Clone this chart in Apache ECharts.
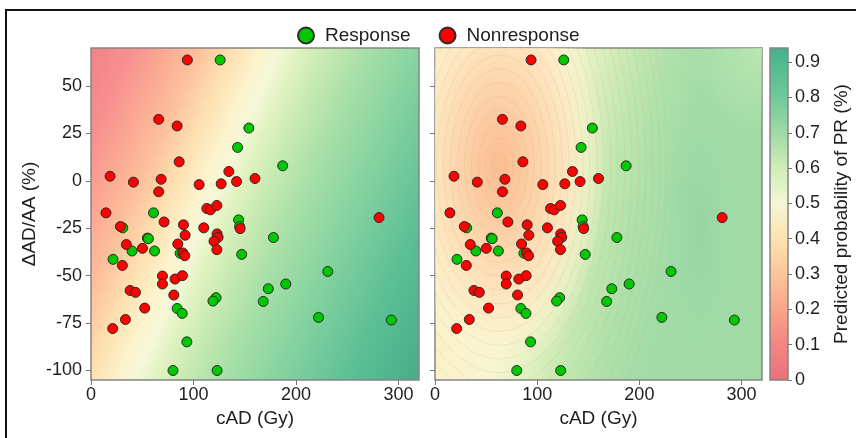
<!DOCTYPE html>
<html>
<head>
<meta charset="utf-8">
<script src="https://cdn.jsdelivr.net/npm/echarts@6/dist/echarts.min.js"></script>
<style>
  html, body { margin: 0; padding: 0; background: #fff; }
  #chart { width: 856px; height: 438px; }
</style>
</head>
<body>
<div id="chart"></div>
<script>
// 散点数据: [cAD (Gy), ΔAD/AA (%)]
const responsePoints = [
  [126, 63.7], [154, 27.8], [143, 17.6], [187, 7.9], [61, -16.9],
  [31, -24.8], [144, -20.6], [145, -24.1], [178, -29.9], [55, -30.2],
  [56, -30.5], [40, -37], [62, -37], [87, -38.2], [147, -38.8],
  [21.5, -41.4], [231, -47.8], [190, -54.4], [173, -56.9], [122, -61.6],
  [119, -63.4], [168, -63.6], [84, -67.3], [89, -69.9], [222, -72],
  [293, -73.4], [93.5, -84.9], [80, -100], [123, -100]
];
const nonresponsePoints = [
  [94, 63.7], [66, 32.4], [84, 28.9], [86, 10], [18.6, 2.4],
  [41.4, -0.7], [68.4, 0.8], [66, -5.8], [105.5, -2], [127, -1.6],
  [134.5, 4.9], [142, -0.4], [160, 1.2], [14.6, -16.9], [113, -14.6],
  [116.6, -15.3], [122.8, -13], [281, -19.4], [28.7, -24.1], [71.3, -21.7],
  [90.2, -23.2], [110, -24.8], [145.5, -25.2], [91.8, -28.7], [123, -28],
  [124, -29.8], [120, -31.9], [34.5, -33.6], [84.7, -33.3], [50.2, -35.6],
  [89.5, -38], [91.5, -39.5], [122.8, -36.3], [30.6, -44.6], [69.7, -50.2],
  [69.7, -54.4], [82, -51.8], [89.2, -50], [38.1, -57.8], [43.4, -58.8],
  [80.8, -60.2], [52.4, -67.1], [33.6, -73.1], [21.2, -77.9]
];
const seriesNames = ['Response', 'Nonresponse'];
const xTicks = [0, 100, 200, 300];
const yTicks = [-100, -75, -50, -25, 0, 25, 50];
const probTicks = [0, 0.1, 0.2, 0.3, 0.4, 0.5, 0.6, 0.7, 0.8, 0.9];

const chart = echarts.init(document.getElementById('chart'));
const font = '"Liberation Sans", Arial, sans-serif';
const textColor = '#1e1e1e';
const frameColor = '#858585';

// 左图: 线性模型的概率面 (斜向渐变)
const leftSurface = {
  type: 'linear', x: 0, y: 0, x2: 1.21, y2: 0.52,
  colorStops: [
    { offset: 0, color: '#f08285' },
    { offset: 0.09, color: '#f79090' },
    { offset: 0.16, color: '#fba893' },
    { offset: 0.23, color: '#fdc09b' },
    { offset: 0.30, color: '#fde0b0' },
    { offset: 0.36, color: '#fcf2cb' },
    { offset: 0.40, color: '#f5f8d8' },
    { offset: 0.445, color: '#e0f2c0' },
    { offset: 0.515, color: '#c2e8b0' },
    { offset: 0.585, color: '#a8dfa8' },
    { offset: 0.69, color: '#88d4a0' },
    { offset: 0.85, color: '#5cbf95' },
    { offset: 1, color: '#48ac8a' }
  ]
};
// 右图底色
const rightSurface = {
  type: 'linear', x: 0, y: 0, x2: 1.164, y2: 0.245,
  colorStops: [
    { offset: 0, color: '#fde9c0' },
    { offset: 0.18, color: '#fbf1c9' },
    { offset: 0.32, color: '#f6f5d2' },
    { offset: 0.38, color: '#e8f2c5' },
    { offset: 0.45, color: '#d3ecb8' },
    { offset: 0.52, color: '#bfe6af' },
    { offset: 0.6, color: '#aee0aa' },
    { offset: 0.7, color: '#a2dca7' },
    { offset: 1, color: '#a0dba6' }
  ]
};
// 色条
const colorBar = {
  type: 'linear', x: 0, y: 1, x2: 0, y2: 0,
  colorStops: [
    { offset: 0, color: '#e8717c' },
    { offset: 0.106, color: '#f28583' },
    { offset: 0.213, color: '#f8a489' },
    { offset: 0.319, color: '#fcc598' },
    { offset: 0.426, color: '#fde2b0' },
    { offset: 0.532, color: '#f4f7d5' },
    { offset: 0.638, color: '#cfecb7' },
    { offset: 0.745, color: '#9fdaa5' },
    { offset: 0.851, color: '#70c99a' },
    { offset: 0.957, color: '#4dba8f' },
    { offset: 1, color: '#48ae8b' }
  ]
};

function radial(stops) {
  return { type: 'radial', x: 0.5, y: 0.5, r: 0.5, colorStops: stops };
}

// 右图的局部峰谷 (椭圆渐变叠加)
function renderRightSurface(params, api) {
  const blobs = [
    {
      c: [63, 8], r: [105, 112],
      stops: [
        { offset: 0, color: 'rgba(251,190,148,1)' },
        { offset: 0.15, color: 'rgba(252,197,155,1)' },
        { offset: 0.3, color: 'rgba(252,207,165,1)' },
        { offset: 0.5, color: 'rgba(253,221,180,0.97)' },
        { offset: 0.7, color: 'rgba(253,234,196,0.85)' },
        { offset: 0.85, color: 'rgba(250,243,208,0.5)' },
        { offset: 1, color: 'rgba(248,245,212,0)' }
      ]
    },
    {
      c: [258, -25], r: [40, 80],
      stops: [
        { offset: 0, color: 'rgba(140,208,160,0.55)' },
        { offset: 0.5, color: 'rgba(145,210,162,0.3)' },
        { offset: 1, color: 'rgba(150,212,165,0)' }
      ]
    },
    {
      c: [320, 70], r: [70, 45],
      stops: [
        { offset: 0, color: 'rgba(192,232,180,0.8)' },
        { offset: 1, color: 'rgba(192,232,180,0)' }
      ]
    }
  ];
  const children = [];
  blobs.forEach(function (b) {
    const c = api.coord(b.c);
    const ex = api.coord([b.c[0] + b.r[0], b.c[1]]);
    const ey = api.coord([b.c[0], b.c[1] + b.r[1]]);
    const rx = Math.abs(ex[0] - c[0]);
    const ry = Math.abs(ey[1] - c[1]);
    children.push({
      type: 'circle',
      x: c[0], y: c[1],
      scaleY: ry / rx,
      shape: { cx: 0, cy: 0, r: rx },
      style: { fill: radial(b.stops) }
    });
  });
  // 峰附近的等值线
  const c0 = api.coord(blobs[0].c);
  const e0 = api.coord([blobs[0].c[0] + blobs[0].r[0], blobs[0].c[1] + blobs[0].r[1]]);
  const rx0 = Math.abs(e0[0] - c0[0]);
  const ry0 = Math.abs(e0[1] - c0[1]);
  for (let k = 1; k <= 24; k++) {
    const f = 0.065 * k;
    children.push({
      type: 'ellipse',
      shape: { cx: c0[0], cy: c0[1], rx: rx0 * f, ry: ry0 * f },
      style: { fill: 'none', stroke: 'rgba(205,160,115,0.22)', lineWidth: 0.8 }
    });
  }
  return { type: 'group', children: children };
}

function gridBox(left, width, bg) {
  return {
    left: left, top: 48, width: width, height: 332,
    show: true, backgroundColor: bg,
    borderColor: frameColor, borderWidth: 1.5
  };
}

function xAxisOf(gridIndex) {
  return {
    gridIndex: gridIndex, type: 'value', min: 0, max: 320,
    axisLine: { show: false, onZero: false },
    splitLine: { show: false },
    axisTick: { customValues: xTicks, length: 5, lineStyle: { color: '#777' } },
    axisLabel: { customValues: xTicks, fontSize: 18, margin: 6, color: textColor, fontFamily: font },
    name: 'cAD (Gy)', nameLocation: 'middle', nameGap: 28,
    nameTextStyle: { fontSize: 19, color: textColor, fontFamily: font }
  };
}

function yAxisOf(gridIndex, withLabels) {
  const axis = {
    gridIndex: gridIndex, type: 'value', min: -105, max: 70,
    axisLine: { show: false, onZero: false },
    splitLine: { show: false },
    axisTick: { customValues: yTicks, length: 5, lineStyle: { color: '#777' } },
    axisLabel: { show: withLabels, customValues: yTicks, fontSize: 18, margin: 9, color: textColor, fontFamily: font }
  };
  if (withLabels) {
    axis.name = 'ΔAD/AA (%)';
    axis.nameLocation = 'middle';
    axis.nameGap = 52;
    axis.nameTextStyle = { fontSize: 19, color: textColor, fontFamily: font };
  }
  return axis;
}

function scatterOf(name, data, color, gridIndex) {
  return {
    name: name, type: 'scatter',
    xAxisIndex: gridIndex, yAxisIndex: gridIndex,
    data: data, symbolSize: 10, z: 3,
    itemStyle: { color: color, borderColor: '#2a2a2a', borderWidth: 1, opacity: 1 }
  };
}

const option = {
  animation: false,
  backgroundColor: '#fff',
  graphic: [{
    type: 'rect', silent: true,
    shape: { x: 6, y: 10, width: 900, height: 500 },
    style: { fill: 'none', stroke: '#111', lineWidth: 2 }
  }],
  legend: {
    data: seriesNames,
    left: 292, top: 21,
    itemWidth: 28, itemHeight: 16, itemGap: 28,
    icon: 'circle',
    textStyle: { fontSize: 19, color: textColor, fontFamily: font }
  },
  grid: [
    gridBox(91, 328, leftSurface),
    gridBox(435, 327, rightSurface),
    gridBox(770, 18, colorBar)
  ],
  xAxis: [
    xAxisOf(0),
    xAxisOf(1),
    { gridIndex: 2, type: 'value', min: 0, max: 1, show: false }
  ],
  yAxis: [
    yAxisOf(0, true),
    yAxisOf(1, false),
    {
      gridIndex: 2, type: 'value', position: 'right', min: 0, max: 0.94,
      axisLine: { show: false, onZero: false },
      splitLine: { show: false },
      axisTick: { customValues: probTicks, length: 4, lineStyle: { color: '#777' } },
      axisLabel: { customValues: probTicks, fontSize: 18, margin: 7, color: textColor, fontFamily: font },
      name: 'Predicted probability of PR (%)', nameLocation: 'middle', nameGap: 44, nameRotate: 90,
      nameTextStyle: { fontSize: 19, color: textColor, fontFamily: font }
    }
  ],
  series: [
    {
      type: 'custom', name: 'surface',
      xAxisIndex: 1, yAxisIndex: 1,
      data: [[0, 0]], clip: true, silent: true, z: 1,
      renderItem: renderRightSurface
    },
    scatterOf(seriesNames[0], responsePoints, '#00c800', 0),
    scatterOf(seriesNames[1], nonresponsePoints, '#ff0000', 0),
    scatterOf(seriesNames[0], responsePoints, '#00c800', 1),
    scatterOf(seriesNames[1], nonresponsePoints, '#ff0000', 1)
  ]
};

chart.setOption(option);
window.addEventListener('resize', function () { chart.resize(); });
</script>
</body>
</html>
